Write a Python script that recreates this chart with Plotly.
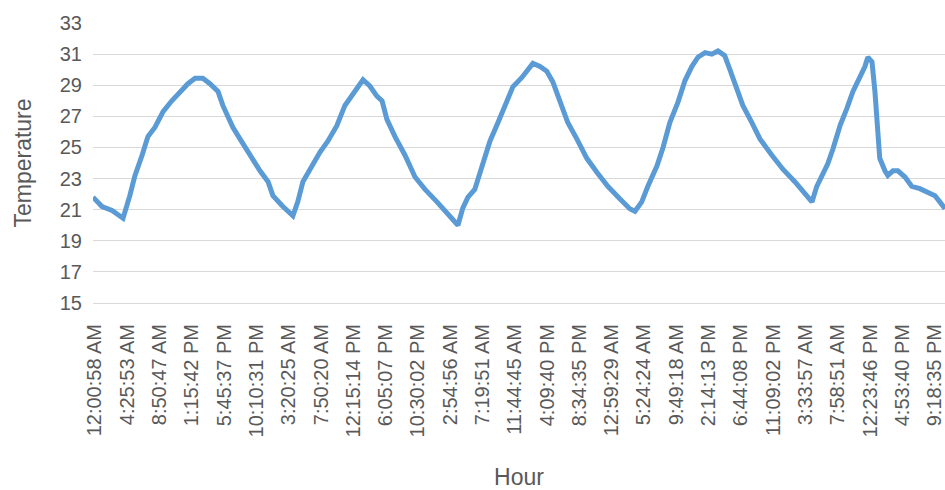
import plotly.graph_objects as go

# Category tick labels (shown every ~4h25m of samples)
tick_labels = ["12:00:58 AM", "4:25:53 AM", "8:50:47 AM", "1:15:42 PM", "5:45:37 PM",
               "10:10:31 PM", "3:20:25 AM", "7:50:20 AM", "12:15:14 PM", "6:05:07 PM",
               "10:30:02 PM", "2:54:56 AM", "7:19:51 AM", "11:44:45 AM", "4:09:40 PM",
               "8:34:35 PM", "12:59:29 AM", "5:24:24 AM", "9:49:18 AM", "2:14:13 PM",
               "6:44:08 PM", "11:09:02 PM", "3:33:57 AM", "7:58:51 AM", "12:23:46 PM",
               "4:53:40 PM", "9:18:35 PM"]

# Sample positions (in units of labelled categories) and temperatures
sample_pos = [-0.06, 0.22, 0.53, 0.71, 0.87, 1.08, 1.24, 1.46, 1.64, 1.86, 2.11, 2.38, 2.63,
              2.88, 3.10, 3.34, 3.56, 3.81, 3.96, 4.12, 4.27, 4.49, 4.80, 5.11, 5.36, 5.51,
              5.82, 6.13, 6.28, 6.44, 6.72, 6.97, 7.21, 7.49, 7.74, 7.99, 8.30, 8.51, 8.73,
              8.89, 9.04, 9.29, 9.60, 9.91, 10.22, 10.59, 10.93, 11.24, 11.39, 11.55, 11.76,
              11.98, 12.23, 12.48, 12.76, 12.94, 13.22, 13.37, 13.56, 13.78, 13.99, 14.18,
              14.40, 14.64, 14.92, 15.23, 15.54, 15.88, 16.25, 16.56, 16.72, 16.93, 17.12,
              17.40, 17.59, 17.80, 18.05, 18.27, 18.48, 18.67, 18.89, 19.10, 19.29, 19.50,
              19.66, 19.88, 20.06, 20.34, 20.59, 20.96, 21.30, 21.67, 21.98, 22.20, 22.35,
              22.51, 22.69, 22.85, 23.07, 23.28, 23.47, 23.68, 23.84, 23.93, 24.06, 24.15,
              24.24, 24.30, 24.46, 24.55, 24.71, 24.86, 25.08, 25.29, 25.54, 25.79, 26.01,
              26.16, 26.32]

temperature = [21.8, 21.2, 20.95, 20.7, 20.45, 21.9, 23.2, 24.5, 25.7, 26.3, 27.3, 28.0, 28.6,
               29.1, 29.45, 29.45, 29.1, 28.6, 27.7, 26.9, 26.3, 25.55, 24.5, 23.5, 22.8, 21.9,
               21.2, 20.6, 21.5, 22.8, 23.8, 24.7, 25.4, 26.4, 27.7, 28.4, 29.35, 28.95, 28.3,
               28.0, 26.8, 25.7, 24.5, 23.1, 22.3, 21.5, 20.7, 20.0, 21.1, 21.8, 22.3,
               23.8, 25.4, 26.6, 27.9, 28.9, 29.5, 29.85, 30.4, 30.2, 29.9, 29.2,
               27.9, 26.6, 25.55, 24.3, 23.4, 22.5, 21.7, 21.06, 20.9, 21.5, 22.5,
               23.8, 25.0, 26.6, 27.9, 29.3, 30.2, 30.8, 31.1, 31.0, 31.2, 30.9,
               30.0, 28.75, 27.7, 26.6, 25.55, 24.5, 23.6, 22.8, 22.1, 21.5, 22.5,
               23.2, 23.95, 24.9, 26.4, 27.5, 28.6, 29.5, 30.2, 30.8, 30.5, 28.6,
               26.0, 24.3, 23.5, 23.2, 23.5, 23.5, 23.1, 22.5, 22.35, 22.15, 21.9,
               21.5, 21.06]

y_ticks = [15, 17, 19, 21, 23, 25, 27, 29, 31, 33]

FONT = "Liberation Sans"
TXT = "#595959"

fig = go.Figure()
fig.add_trace(go.Scatter(
    x=sample_pos, y=temperature, mode="lines",
    line=dict(color="#5B9BD5", width=5),
    hoverinfo="skip", showlegend=False,
))

fig.update_layout(
    width=945, height=490,
    margin=dict(l=93, r=0, t=23, b=187),
    paper_bgcolor="white", plot_bgcolor="white",
    font=dict(family=FONT, color=TXT),
)
fig.update_xaxes(
    range=[-0.06, 26.32], automargin=False,
    tickmode="array", tickvals=list(range(len(tick_labels))), ticktext=tick_labels,
    tickangle=-90, tickfont=dict(size=20, color=TXT, family=FONT),
    ticklabelstandoff=12, ticklabeloverflow="allow",
    showgrid=False, zeroline=False,
    showline=True, linecolor="#D9D9D9", linewidth=1,
    ticks="",
    title=dict(text="Hour", font=dict(size=23, color=TXT, family=FONT), standoff=36),
)
fig.update_yaxes(
    range=[15, 33], automargin=False,
    tickmode="array", tickvals=y_ticks,
    tickfont=dict(size=20, color=TXT, family=FONT),
    ticklabelstandoff=10,
    showgrid=True, gridcolor="#D9D9D9", gridwidth=1,
    zeroline=False, showline=False, ticks="",
    title=dict(text="Temperature", font=dict(size=23, color=TXT, family=FONT), standoff=21),
)

# remove the default page margin so the 945x490 figure fills the window exactly
fig.write_html(
    "out.html",
    config={"displayModeBar": False},
    post_script="document.body.style.margin='0';document.body.style.overflow='hidden';",
)
